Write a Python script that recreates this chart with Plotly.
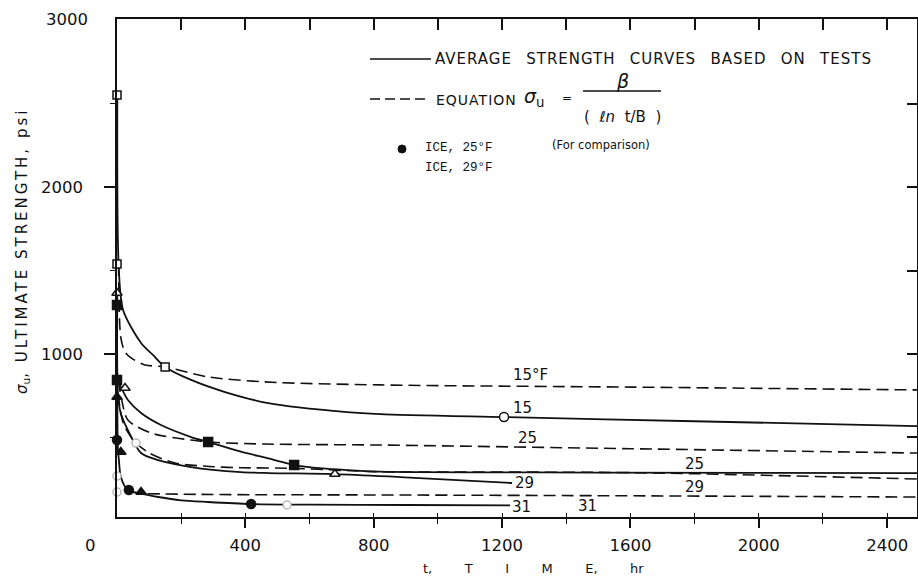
import plotly.graph_objects as go

# ---------------- data (t in hr, sigma in psi) ----------------
# 15 F  (open squares)
T15_SOLID = [1, 5, 19, 75, 112, 150, 231, 337, 471, 717, 820, 1206, 1800, 2493]
S15_SOLID = [2554, 1539, 1263, 1065, 993, 921, 843, 770, 704, 650, 638, 620, 595, 566]
T15_EQ = [5, 12, 25, 44, 87, 150, 284, 461, 820, 1600, 2493]
S15_EQ = [1539, 1095, 1011, 975, 933, 921, 861, 831, 813, 800, 783]
T15_PTS = [0, 0, 150]
S15_PTS = [2554, 1539, 921]
T15_CIRC = [1206]
S15_CIRC = [620]

# 25 F  (filled squares)
T25_SOLID = [1, 3, 15, 34, 75, 137, 231, 284, 386, 471, 552, 640, 717, 820, 1500, 2493]
S25_SOLID = [1293, 843, 790, 722, 644, 572, 500, 470, 412, 372, 332, 312, 302, 292, 287, 284]
T25_EQ = [4, 15, 34, 106, 231, 284, 461, 820, 1600, 2493]
S25_EQ = [843, 720, 602, 524, 482, 470, 458, 452, 430, 404]
T25_PTS = [0, 0, 284, 552]
S25_PTS = [1293, 843, 470, 332]

# 29 F  (open triangles)
T29_SOLID = [1, 3, 12, 34, 75, 128, 231, 386, 471, 679, 882, 1231]
S29_SOLID = [1365, 760, 640, 542, 404, 362, 320, 290, 284, 278, 260, 224]
T29_EQ = [3, 20, 44, 59, 100, 181, 300, 386, 552, 700, 820, 1500, 1800, 2493]
S29_EQ = [760, 580, 500, 464, 405, 344, 322, 316, 312, 300, 292, 288, 280, 248]
T29_PTS = [0, 25, 679]
S29_PTS = [1365, 795, 278]

# 31 F  (filled triangles)
T31_SOLID = [1, 3, 6, 12, 34, 75, 128, 200, 284, 418, 600, 900, 1225]
S31_SOLID = [740, 420, 362, 260, 182, 160, 140, 120, 110, 98, 94, 92, 90]
T31_EQ = [95, 300, 882, 1500, 2493]
S31_EQ = [160, 155, 152, 148, 140]
T31_PTS = [0, 12, 75]
S31_PTS = [740, 410, 170]

# ice (for comparison)
T_ICE25 = [0, 37, 418]
S_ICE25 = [482, 182, 98]
T_ICE29 = [0, 0, 59, 530]
S_ICE29 = [266, 170, 464, 92]

# curve labels
LABEL_TEXT = ["15°F", "15", "25", "29", "31", "25", "29", "31"]
LABEL_T = [1290, 1265, 1278, 1271, 1262, 1801, 1801, 1465]
LABEL_S = [873, 674, 494, 224, 82, 338, 200, 88]

# axes
X_RANGE = [0, 2493]
Y_RANGE = [20, 3010]
X_MAJOR = [400, 800, 1200, 1600, 2000, 2400]
X_MAJOR_TEXT = ["400", "800", "1200", "1600", "2000", "2400"]
X_MINOR = [200, 600, 1000, 1400, 1800, 2200]
X_ALL = [200, 400, 600, 800, 1000, 1200, 1400, 1600, 1800, 2000, 2200, 2400]
Y_MAJOR = [1000, 2000]
Y_MAJOR_TEXT = ["1000", "2000"]
Y_MINOR = [500, 1500, 2500]
Y_ALL = [500, 1000, 1500, 2000, 2500]

INK = "#111111"
DASH = "12px,6px"

fig = go.Figure()


def curve(t, s, dashed):
    fig.add_trace(go.Scatter(
        x=t, y=s, mode="lines", showlegend=False, hoverinfo="skip",
        line=dict(color=INK, width=1.6 if dashed else 1.8,
                  dash=DASH if dashed else "solid", shape="spline", smoothing=0.8)))


def points(t, s, symbol, size, color=INK, fill=None):
    fig.add_trace(go.Scatter(
        x=t, y=s, mode="markers", showlegend=False, hoverinfo="skip", cliponaxis=False,
        marker=dict(symbol=symbol, size=size, color=fill if fill else color,
                    line=dict(color=color, width=1.5))))


curve(T15_SOLID, S15_SOLID, False)
curve(T15_EQ, S15_EQ, True)
curve(T25_SOLID, S25_SOLID, False)
curve(T25_EQ, S25_EQ, True)
curve(T29_SOLID, S29_SOLID, False)
curve(T29_EQ, S29_EQ, True)
curve(T31_SOLID, S31_SOLID, False)
curve(T31_EQ, S31_EQ, True)

points(T15_PTS, S15_PTS, "square", 8, fill="white")
points(T15_CIRC, S15_CIRC, "circle", 9, fill="white")
points(T25_PTS, S25_PTS, "square", 9)
points(T29_PTS, S29_PTS, "triangle-up", 9, fill="white")
points(T31_PTS, S31_PTS, "triangle-up", 9)
points(T_ICE25, S_ICE25, "circle", 9)
points(T_ICE29, S_ICE29, "circle", 8, color="#b8b8b8", fill="white")

# dummy traces so the mirror axes are drawn
fig.add_trace(go.Scatter(x=[None], y=[None], xaxis="x2", yaxis="y2", showlegend=False, hoverinfo="skip"))
fig.add_trace(go.Scatter(x=[None], y=[None], xaxis="x3", yaxis="y", showlegend=False, hoverinfo="skip"))

annotations = []
for txt, t, s in zip(LABEL_TEXT, LABEL_T, LABEL_S):
    annotations.append(dict(x=t, y=s, xref="x", yref="y", text=txt, showarrow=False,
                            font=dict(size=15, color=INK, family="DejaVu Sans"),
                            xanchor="center", yanchor="middle"))


def ptext(text, px, py, size, xanchor="left", family="DejaVu Sans", angle=0):
    annotations.append(dict(x=(px - 117) / 800, y=(517 - py) / 498, xref="paper", yref="paper",
                            text=text, showarrow=False, textangle=angle,
                            font=dict(size=size, color=INK, family=family),
                            xanchor=xanchor, yanchor="middle"))


sp = "\u2002"
gap = "\u2003\u2003\u2002"
ptext('<span style="letter-spacing:1px">AVERAGE ' + sp + 'STRENGTH ' + sp + 'CURVES ' + sp +
      'BASED ' + sp + 'ON ' + sp + 'TESTS</span>', 433, 59, 15)
ptext('<span style="letter-spacing:1px">EQUATION</span>', 434, 100, 14)
ptext('<i>σ</i><sub>u</sub>', 522, 98, 19)
ptext('=', 567, 98, 12, xanchor="center")
ptext('<i>β</i>', 622, 81, 19, xanchor="center")
ptext('(  <i>ℓn</i>  t/B  )', 622, 117, 15, xanchor="center")
ptext('ICE, 25°F', 423, 148, 12.5, family="Liberation Mono")
ptext('ICE, 29°F', 423, 168, 12.5, family="Liberation Mono")
ptext('(For comparison)', 550, 145, 11.5)
ptext('<i>σ</i><sub>u</sub><span style="letter-spacing:3px">, ULTIMATE STRENGTH, psi</span>',
      22, 251, 15, xanchor="center", angle=-90)
ptext('t,' + gap + 'T' + gap + 'I' + gap + 'M' + gap + 'E,' + gap + 'hr', 533, 568, 13,
      xanchor="center")
ptext('0', 90, 545, 16.5, xanchor="center")
ptext('3000', 90, 19, 16.5, xanchor="right")

shapes = [
    dict(type="line", xref="paper", yref="paper", x0=(370 - 117) / 800, x1=(431 - 117) / 800,
         y0=(517 - 59) / 498, y1=(517 - 59) / 498, line=dict(color=INK, width=1.5)),
    dict(type="line", xref="paper", yref="paper", x0=(370 - 117) / 800, x1=(429 - 117) / 800,
         y0=(517 - 99) / 498, y1=(517 - 99) / 498, line=dict(color=INK, width=1.5, dash="10px,5px")),
    dict(type="line", xref="paper", yref="paper", x0=(583 - 117) / 800, x1=(661 - 117) / 800,
         y0=(517 - 91) / 498, y1=(517 - 91) / 498, line=dict(color=INK, width=1.3)),
    dict(type="circle", xref="paper", yref="paper", xsizemode="pixel", ysizemode="pixel",
         xanchor=(402 - 117) / 800, yanchor=(517 - 149) / 498, x0=-4, x1=4, y0=-4, y1=4,
         fillcolor=INK, line=dict(color=INK, width=1)),
]

axis_common = dict(showgrid=False, zeroline=False, showline=True, linecolor=INK, linewidth=1.5,
                   tickcolor=INK, tickwidth=1.5)

fig.update_layout(
    width=918, height=577,
    margin=dict(l=117, r=1, t=19, b=60),
    paper_bgcolor="white", plot_bgcolor="white",
    showlegend=False,
    font=dict(family="DejaVu Sans", color=INK),
    xaxis=dict(range=X_RANGE, tickmode="array", tickvals=X_MAJOR, ticktext=X_MAJOR_TEXT,
               ticks="outside", ticklen=9, tickfont=dict(size=16.5), ticklabelstandoff=3,
               minor=dict(tickmode="array", tickvals=X_MINOR, ticks="outside", ticklen=5,
                          tickcolor=INK, tickwidth=1.3),
               **axis_common),
    xaxis2=dict(range=X_RANGE, overlaying="x", side="top", anchor="y", tickmode="array",
                tickvals=X_ALL, ticks="inside", ticklen=11, showticklabels=False, **axis_common),
    xaxis3=dict(range=X_RANGE, overlaying="x", side="bottom", anchor="y", tickmode="array",
                tickvals=X_ALL, ticks="inside", ticklen=4, showticklabels=False,
                showgrid=False, zeroline=False, showline=False, tickcolor=INK, tickwidth=1.3),
    yaxis=dict(range=Y_RANGE, tickmode="array", tickvals=Y_MAJOR, ticktext=Y_MAJOR_TEXT,
               ticks="outside", ticklen=11, tickfont=dict(size=16.5), ticklabelstandoff=18,
               minor=dict(tickmode="array", tickvals=Y_MINOR, ticks="outside", ticklen=5,
                          tickcolor=INK, tickwidth=1.3),
               **axis_common),
    yaxis2=dict(range=Y_RANGE, overlaying="y", side="right", anchor="x", tickmode="array",
                tickvals=Y_ALL, ticks="inside", ticklen=10, showticklabels=False, **axis_common),
    annotations=annotations,
    shapes=shapes,
)

fig.write_html("out.html", config={"displayModeBar": False},
               post_script="document.body.style.margin='0px';")
